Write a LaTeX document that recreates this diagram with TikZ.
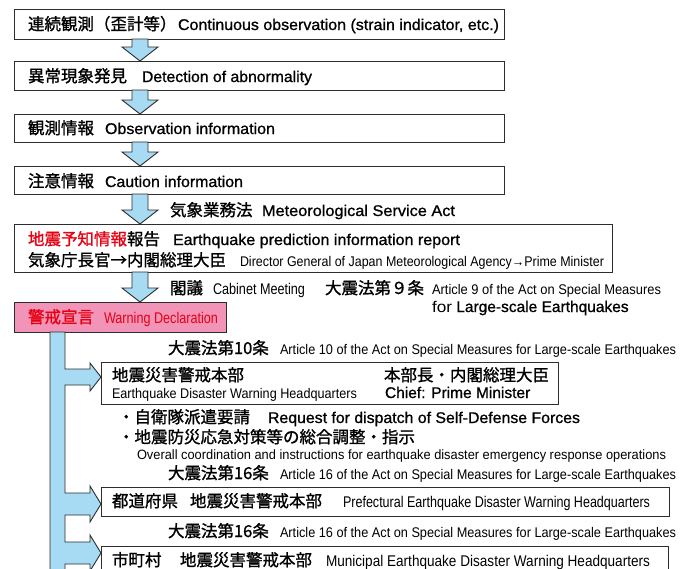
\documentclass[tikz,border=0pt]{standalone}
\usepackage{fontspec}
\setmainfont{Liberation Sans}
\newfontfamily\jpfont{Noto Sans CJK JP}[FakeBold=1.2]
\newfontfamily\enheavy{Liberation Sans}[FakeBold=0.9]
\usetikzlibrary{calc}

\definecolor{flowblue}{RGB}{166,219,243}
\definecolor{warnpink}{RGB}{241,148,183}
\definecolor{warnred}{RGB}{230,0,18}
\definecolor{edge}{RGB}{45,45,45}

% horizontally squeeze or stretch a piece of text to a given width (pt)
\newcommand\fitw[2]{\resizebox{#1pt}{\height}{#2}}

\tikzset{
  stagebox/.style={draw=edge, line width=0.9pt, fill=white, anchor=north west,
                   inner sep=0pt, outer sep=0pt},
  lbl/.style={anchor=base west, inner sep=0pt, outer sep=0pt},
  jp/.style={lbl, font=\jpfont\fontsize{16.5}{18}\selectfont},
  en/.style={lbl, font=\enheavy\fontsize{15.5}{17}\selectfont},
  enmid/.style={lbl, font=\fontsize{15.5}{17}\selectfont},
  ensm/.style={lbl, font=\fontsize{14}{16}\selectfont},
  enxs/.style={lbl, font=\fontsize{13.5}{15}\selectfont},
  blockarrow/.style={draw=edge, line width=0.9pt, fill=flowblue, line join=miter},
}

% downward block arrow from the point #1 to the tip #2
\newcommand\flowdown[2]{%
  \path[blockarrow] let \p1=(#1), \p2=(#2) in
    (\x1-8pt,\y1) -- (\x1+8pt,\y1) -- (\x1+8pt,\y2+14pt) -- (\x1+18pt,\y2+14pt)
    -- (\x2,\y2) -- (\x1-18pt,\y2+14pt) -- (\x1-8pt,\y2+14pt) -- cycle;}

\begin{document}
\begin{tikzpicture}[x=1pt,y=-1pt]
\clip (0,0) rectangle (691,568);
\fill[white] (0,0) rectangle (691,568);

% ---- stage boxes ----
\node[stagebox, minimum width=490pt, minimum height=30pt] (b1) at (14,9) {};
\node[stagebox, minimum width=490pt, minimum height=29pt] (b2) at (14,61) {};
\node[stagebox, minimum width=490pt, minimum height=28pt] (b3) at (14,114) {};
\node[stagebox, minimum width=490pt, minimum height=28pt] (b4) at (14,166) {};
\node[stagebox, minimum width=598pt, minimum height=48pt] (b5) at (14,224) {};
\node[stagebox, fill=warnpink, minimum width=212pt, minimum height=30pt] (warn) at (14,302) {};
\node[stagebox, minimum width=457pt, minimum height=42pt] (b7) at (101,362) {};
\node[stagebox, minimum width=568pt, minimum height=29pt] (b8) at (101,487) {};
\node[stagebox, minimum width=567pt, minimum height=32pt] (b9) at (101,546) {};

% ---- downward flow arrows ----
\flowdown{140,0 |- b1.south}{140,0 |- b2.north}
\flowdown{140,0 |- b2.south}{140,0 |- b3.north}
\flowdown{140,0 |- b3.south}{140,0 |- b4.north}
\flowdown{140,0 |- b4.south}{140,0 |- b5.north}
\flowdown{140,0 |- b5.south}{140,0 |- warn.north}

% ---- trunk from the warning declaration with three branches ----
\path[blockarrow]
  (50,332) -- (65,332)
  -- (65,369) -- (90,369) -- (90,363) -- (b7.west |- 0,377) -- (90,391) -- (90,385) -- (65,385)
  -- (65,493) -- (90,493) -- (90,486) -- (b8.west |- 0,504) -- (90,522) -- (90,515) -- (65,515)
  -- (65,542) -- (90,542) -- (90,535) -- (b9.west |- 0,553) -- (90,571) -- (90,564) -- (65,564)
  -- (65,580) -- (50,580) -- cycle;

% ---- texts ----
\node[jp] (t1j) at (28,30) {連続観測（歪計等）};
\node[en] (t1e) at (178,30) {\fitw{321}{Continuous observation (strain indicator, etc.)}};

\node[jp] (t2j) at (28,82) {異常現象発見};
\node[en] (t2e) at (142,82) {\fitw{170}{Detection of abnormality}};

\node[jp] (t3j) at (28,134) {観測情報};
\node[en] (t3e) at (105,134) {\fitw{170}{Observation information}};

\node[jp] (t4j) at (28,187) {注意情報};
\node[en] (t4e) at (105,187) {\fitw{138}{Caution information}};

\node[jp] (l1j) at (170,216) {気象業務法};
\node[en] (l1e) at (262,216) {\fitw{193}{Meteorological Service Act}};

\node[jp] (t5j) at (28,245) {\textcolor{warnred}{地震予知情報}報告};
\node[en] (t5e) at (173,245) {\fitw{287}{Earthquake prediction information report}};
\node[jp] (t5k) at (28,266) {気象庁長官→内閣総理大臣};
\node[ensm] (t5f) at (240,266) {\fitw{364}{Director General of Japan Meteorological Agency→Prime Minister}};

\node[jp] (l2j) at (170,294) {閣議};
\node[enmid] (l2e) at (213,294) {\fitw{92}{Cabinet Meeting}};
\node[jp] (l2k) at (325,294) {大震法第９条};
\node[ensm] (l2f) at (432,294) {\fitw{229}{Article 9 of the Act on Special Measures}};
\node[en] (l2g) at (432,312) {{\normalfont\fitw{20}{for}} Large-scale Earthquakes};

\node[jp, text=warnred] (t6j) at (28,323) {警戒宣言};
\node[enmid, text=warnred] (t6e) at (104,323) {\fitw{114}{Warning Declaration}};

\node[jp] (l3j) at (168,354) {大震法第10条};
\node[ensm] (l3e) at (280,354) {\fitw{396}{Article 10 of the Act on Special Measures for Large-scale Earthquakes}};

\node[jp] (t7j) at (112,381) {地震災害警戒本部};
\node[jp] (t7k) at (384,381) {本部長・内閣総理大臣};
\node[ensm] (t7e) at (112,398) {\fitw{245}{Earthquake Disaster Warning Headquarters}};
\node[en] (t7f) at (385,398) {Chief: Prime Minister};

\node[jp] (d1j) at (118,423) {・自衛隊派遣要請};
\node[en] (d1e) at (268,423) {\fitw{312}{Request for dispatch of Self-Defense Forces}};
\node[jp] (d2j) at (118,443) {・地震防災応急対策等の総合調整・指示};
\node[enxs] (d2e) at (137,459) {\fitw{529}{Overall coordination and instructions for earthquake disaster emergency response operations}};

\node[jp] (l4j) at (168,479) {大震法第16条};
\node[ensm] (l4e) at (280,479) {\fitw{396}{Article 16 of the Act on Special Measures for Large-scale Earthquakes}};

\node[jp] (t8j) at (112,507) {都道府県};
\node[jp] (t8k) at (190,507) {地震災害警戒本部};
\node[enmid] (t8e) at (343,507) {\fitw{307}{Prefectural Earthquake Disaster Warning Headquarters}};

\node[jp] (l5j) at (168,537) {大震法第16条};
\node[ensm] (l5e) at (280,537) {\fitw{396}{Article 16 of the Act on Special Measures for Large-scale Earthquakes}};

\node[jp] (t9j) at (112,566) {市町村};
\node[jp] (t9k) at (180,566) {地震災害警戒本部};
\node[enmid] (t9e) at (326,566) {\fitw{324}{Municipal Earthquake Disaster Warning Headquarters}};
\end{tikzpicture}
\end{document}
